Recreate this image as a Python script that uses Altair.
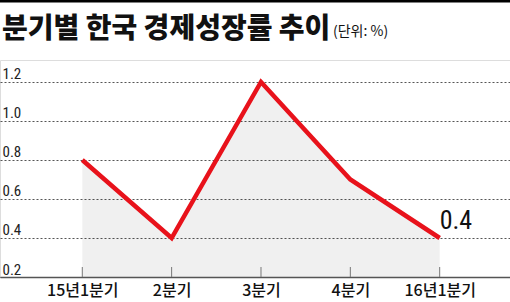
import altair as alt
import pandas as pd

quarters = ["15년1분기", "2분기", "3분기", "4분기", "16년1분기"]
growth = [0.8, 0.4, 1.2, 0.7, 0.4]
y_ticks = [0.2, 0.4, 0.6, 0.8, 1.0, 1.2]
title_text = "분기별 한국 경제성장률 추이"
unit_text = "(단위: %)"

df = pd.DataFrame({"i": list(range(len(quarters))), "q": quarters, "g": growth})

label_expr = "[" + ",".join(f"'{q}'" for q in quarters) + "][datum.value]"

NUM_FONT = "Roboto Condensed, Liberation Sans Narrow, Roboto, sans-serif"

xs = alt.Scale(domain=[-0.921, 4.787], nice=False, zero=False)
ys = alt.Scale(domain=[0.2, 1.3128], nice=False, zero=False)

base = alt.Chart(df)

area = base.mark_area(color="#000000", opacity=0.06).encode(
    x=alt.X("i:Q", scale=xs, axis=alt.Axis(
        values=list(range(len(quarters))), labelExpr=label_expr, title=None,
        grid=False, ticks=False, domain=True, domainColor="#555555", domainWidth=1.5,
        labelFont="Noto Sans CJK KR", labelFontSize=16, labelFontWeight=500,
        labelColor="#111111", labelPadding=5)),
    y=alt.Y("g:Q", scale=ys, axis=alt.Axis(
        values=y_ticks, format=".1f", title=None, grid=True, gridDash=[2, 2],
        gridColor="#555555", gridWidth=1, ticks=False, domain=False,
        labelAlign="left", labelBaseline="alphabetic", labelPadding=-2, labelOffset=-3,
        labelFont=NUM_FONT, labelFontSize=15, labelColor="#222222")),
    y2=alt.Y2Datum(0.2),
)

ticks = base.mark_rule(color="#777777", strokeWidth=1).encode(
    x=alt.X("i:Q", scale=xs), y=alt.value(207), y2=alt.value(217))

line = base.mark_line(color="#e8121b", strokeWidth=4.5, strokeJoin="miter").encode(
    x=alt.X("i:Q", scale=xs), y=alt.Y("g:Q", scale=ys))

last = base.transform_filter(alt.datum.i == len(quarters) - 1).mark_text(
    align="left", baseline="bottom", dx=0, dy=-4, font=NUM_FONT,
    fontSize=26, color="#111111").encode(
    x=alt.X("i:Q", scale=xs), y=alt.Y("g:Q", scale=ys), text=alt.Text("g:Q", format=".1f"))

top_bar = alt.Chart(pd.DataFrame({"a": [0]})).mark_rule(color="#000000", strokeWidth=3).encode(
    x=alt.value(0), x2=alt.value(510), y=alt.value(-59))

title = alt.Chart(pd.DataFrame({"t": [title_text]})).mark_text(
    align="left", baseline="alphabetic", font="Noto Sans CJK KR", fontWeight=900,
    fontSize=28, color="#111111").encode(
    x=alt.value(2), y=alt.value(-22), text="t:N")

unit = alt.Chart(pd.DataFrame({"t": [unit_text]})).mark_text(
    align="left", baseline="alphabetic", font="Noto Sans CJK KR", fontSize=14,
    color="#111111").encode(
    x=alt.value(333), y=alt.value(-24), text="t:N")

chart = alt.layer(area, ticks, line, last, top_bar, title, unit).properties(
    width=510, height=217,
    autosize=alt.AutoSizeParams(type="none"),
    padding={"left": 0, "top": 60, "right": 0, "bottom": 25},
).configure_view(stroke=None).configure(background="white")

chart.save("out.html", embed_options={"renderer": "svg", "actions": False})
